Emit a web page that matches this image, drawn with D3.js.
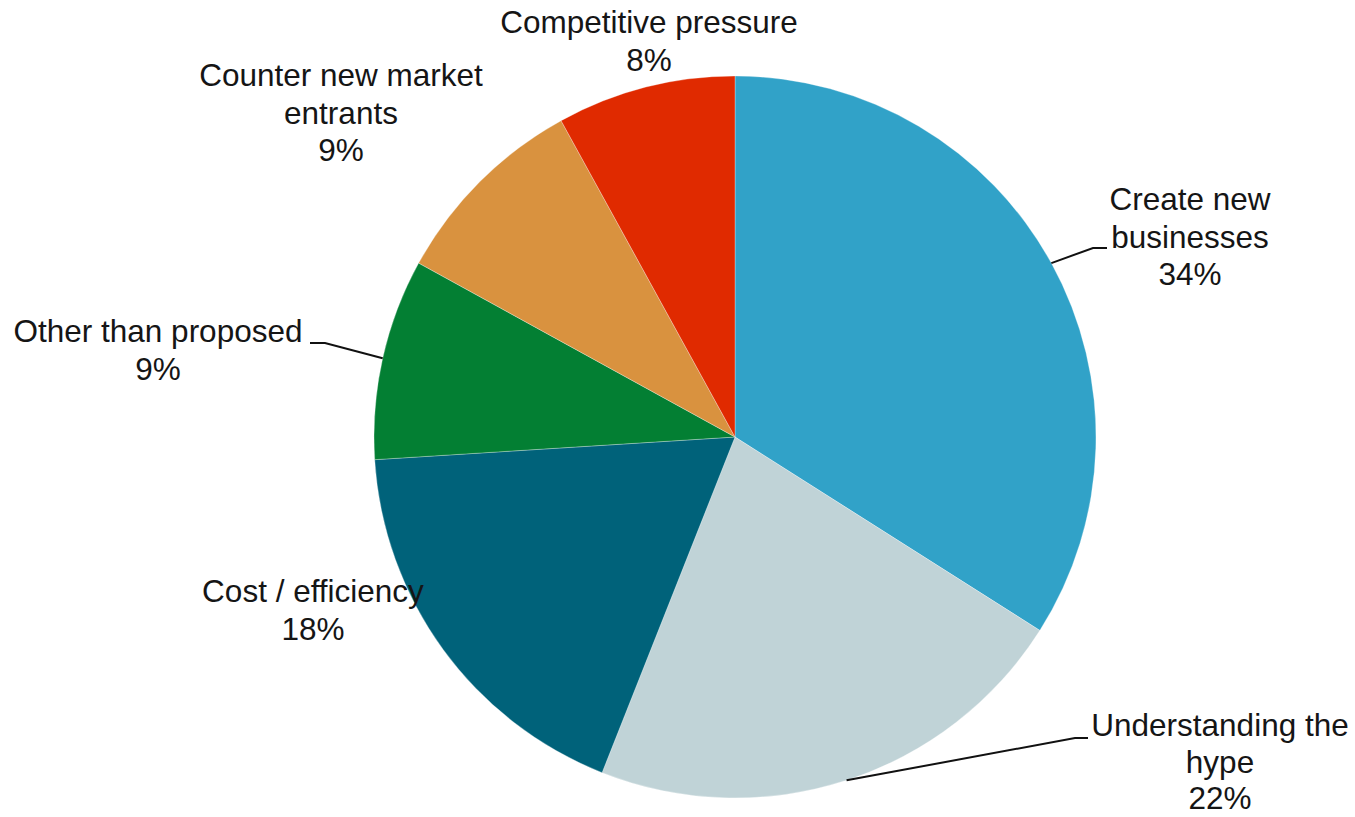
<!DOCTYPE html>
<html>
<head>
<meta charset="utf-8">
<script src="https://cdn.jsdelivr.net/npm/d3@7"></script>
<style>
  html, body { margin: 0; padding: 0; background: #ffffff; }
  svg { display: block; }
  text { font-family: "Liberation Sans", Arial, sans-serif; font-size: 31.5px; fill: #151515; }
</style>
</head>
<body>
<svg id="chart" width="1355" height="817"></svg>
<script>
// Survey shares, clockwise from 12 o'clock
const categories = [
  "Create new businesses",
  "Understanding the hype",
  "Cost / efficiency",
  "Other than proposed",
  "Counter new market entrants",
  "Competitive pressure"
];
const shares = [34, 22, 18, 9, 9, 8];
const labelLines = [
  ["Create new", "businesses"],
  ["Understanding the", "hype"],
  ["Cost / efficiency"],
  ["Other than proposed"],
  ["Counter new market", "entrants"],
  ["Competitive pressure"]
];
const sliceColors = ["#31a2c8", "#c0d3d7", "#00627a", "#037f33", "#d9923f", "#e02a00"];

// Label placement: centre x, centre y of first line, line spacing, optional leader elbow
const labelLayout = {
  "Create new businesses":       { x: 1190, y: 199, lh: 37.5, elbow: [1093, 248], end: [1107, 248] },
  "Understanding the hype":      { x: 1220, y: 725, lh: 36.5, elbow: [1075, 738], end: [1088, 738] },
  "Cost / efficiency":           { x: 313,  y: 591, lh: 38 },
  "Other than proposed":         { x: 158,  y: 331, lh: 38, elbow: [325, 343], end: [310, 343] },
  "Counter new market entrants": { x: 341,  y: 75,  lh: 37.5 },
  "Competitive pressure":        { x: 649,  y: 22,  lh: 38 }
};

const width = 1355, height = 817;
const cx = 735, cy = 437, radius = 361;

const rows = categories.map((name, i) => ({
  name,
  value: shares[i],
  lines: labelLines[i].concat([shares[i] + "%"]),
  color: sliceColors[i]
}));

const svg = d3.select("#chart");
const g = svg.append("g").attr("transform", `translate(${cx},${cy})`);

const pie = d3.pie().value(d => d.value).sort(null);
const arc = d3.arc().innerRadius(0).outerRadius(radius);
const arcs = pie(rows);

g.selectAll("path.slice")
  .data(arcs)
  .join("path")
  .attr("class", "slice")
  .attr("d", arc)
  .attr("fill", d => d.data.color)
  .attr("stroke", "#ffffff")
  .attr("stroke-width", 0.3);

// Leader lines from the rim at each slice's mid-angle
arcs.forEach(a => {
  const lay = labelLayout[a.data.name];
  if (!lay.elbow) return;
  const mid = (a.startAngle + a.endAngle) / 2;
  const sx = cx + radius * Math.sin(mid);
  const sy = cy - radius * Math.cos(mid);
  svg.append("polyline")
    .attr("points", [[sx, sy], lay.elbow, lay.end].map(p => p.join(",")).join(" "))
    .attr("fill", "none")
    .attr("stroke", "#111111")
    .attr("stroke-width", 2);
});

// Labels
arcs.forEach(a => {
  const lay = labelLayout[a.data.name];
  const t = svg.append("text").attr("text-anchor", "middle");
  a.data.lines.forEach((ln, k) => {
    t.append("tspan")
      .attr("x", lay.x)
      .attr("y", lay.y + 11 + k * lay.lh)
      .text(ln);
  });
});
</script>
</body>
</html>
